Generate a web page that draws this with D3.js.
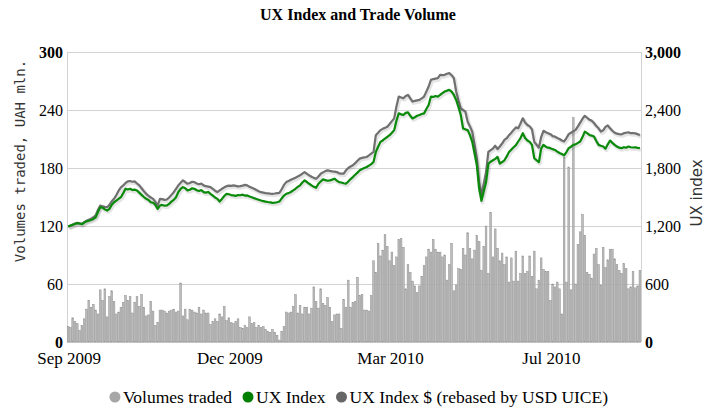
<!DOCTYPE html>
<html>
<head>
<meta charset="utf-8">
<script src="https://cdn.jsdelivr.net/npm/d3@7"></script>
<style>
  body { margin: 0; background: #fff; }
</style>
</head>
<body>
<div id="chart"></div>
<script>
// daily volumes traded, UAH mln (left axis)
const volumes = [
  16,15,25,21,19,12,17,24,34,43, 36,39,33,29,54,43,55,26,47,53,
  42,29,31,36,41,48,43,47,30,41, 47,37,49,36,27,28,42,32,17,20,
  33,33,32,30,32,33,34,31,32,61, 27,34,23,34,33,31,30,36,29,33,
  30,30,18,21,24,21,29,26,37,22, 25,20,19,21,24,15,14,17,15,26,
  19,20,15,17,15,16,13,11,10,13, 10,7,2,11,16,31,30,31,37,49,
  30,38,29,36,36,29,35,57,42,35, 55,40,38,46,36,21,28,29,29,14,
  44,36,64,36,41,42,67,48,49,33, 33,32,48,84,72,102,89,95,111,99,
  84,93,79,88,106,107,98,55,80,72, 63,58,51,58,68,79,88,96,93,106,
  96,93,93,88,90,64,80,102,53,59, 76,75,97,90,113,97,86,95,110,104,
  74,99,120,71,134,88,117,97,84,92, 80,88,62,87,63,94,63,71,89,71,
  73,89,68,94,55,64,87,75,73,73, 43,60,57,62,55,29,191,62,181,54,
  232,60,101,114,132,110,72,70,66,91, 97,80,59,98,77,85,96,96,86,80,
  74,71,81,76,55,57,73,56,58,74
];

// UX Index (right axis)
const uxIndex = [
  1195,1205,1212,1220,1230,1226,1218,1235,1248,1255,1262,1273,
  1290,1345,1394,1390,1372,1360,1377,1420,1446,1462,1480,1498,
  1540,1585,1578,1585,1572,1576,1568,1545,1522,1500,1481,1470,1446,
  1440,1418,1377,1412,1418,1410,1412,1428,1452,1470,1498,1550,1585,1602,
  1590,1568,1575,1590,1585,1570,1562,1572,1550,1545,1552,1533,
  1515,1495,1481,1453,1480,1510,1533,1528,1520,1516,
  1512,1520,1518,1524,1515,1516,1505,1498,1488,1480,1472,1464,
  1458,1452,1448,1445,1439,1442,1446,1453,1485,1515,1533,
  1540,1552,1568,1585,1605,1620,1650,1672,1655,1637,1620,1605,1595,
  1637,1660,1682,1675,1668,1672,1680,1689,1670,1654,1650,1642,1637,
  1660,1685,1706,1730,1752,1776,1790,1800,1810,1825,1840,1862,
  1966,2020,2070,2085,2105,2123,2140,2165,2192,2290,2365,2355,2348,
  2370,2376,2340,2313,2325,2340,2348,2358,2365,2410,2452,2539,
  2535,2545,2539,2556,2575,2591,2600,2608,2590,2556,2504,2430,2348,
  2209,2200,2192,2140,2070,1950,1828,1585,1460,1560,1654,1845,
  1865,1880,1895,1914,1845,1862,1880,1920,1966,1990,2015,2036,
  2074,2110,2160,2110,2085,2070,2039,1901,1880,1860,2001,2039,2020,
  2010,2005,1995,1987,1970,1955,1945,1930,1965,2005,2020,2039,
  2045,2060,2074,2120,2176,2160,2142,2135,2125,2080,2039,2030,2022,
  2000,2045,2084,2060,2040,2022,2010,2005,2015,2010,2022,
  2015,2012,2015,2008,2005
];

// UX Index $ (rebased by USD UICE), right axis
const uxIndexUsd = [
  1195,1200,1215,1225,1232,1228,1222,1240,1255,1265,1275,1290,
  1310,1365,1412,1405,1398,1394,1420,1455,1481,
  1520,1565,1600,1620,1645,1661,1665,1658,1661,1640,1620,
  1590,1560,1533,1512,1495,1481,1450,1412,1481,1478,1470,1474,
  1495,1522,1550,1585,1620,1648,1672,1655,1637,1645,1658,1654,
  1640,1632,1638,1620,1612,1608,1602,1585,1565,1550,1568,1585,
  1600,1612,1618,1615,1620,1615,1610,1613,1618,1625,1620,
  1605,1595,1585,1572,1560,1550,1545,1540,1538,1535,1533,
  1536,1540,1543,1580,1625,1654,1665,1678,1689,1700,1712,1724,
  1742,1758,1740,1724,1710,1698,1689,1712,1741,1755,1768,1776,
  1770,1765,1762,1758,1745,1741,1741,1776,1800,1815,1828,
  1850,1875,1897,1905,1910,1914,1930,1948,1966,2140,2165,
  2192,2205,2215,2227,2255,2285,2313,2440,2539,2530,2521,
  2545,2556,2520,2487,2495,2500,2504,2520,2539,2590,2643,
  2712,2720,2725,2729,2764,2760,2764,2775,2781,2760,2729,
  2591,2500,2417,2400,2383,2279,2230,2175,2040,1897,1654,1520,
  1640,1758,1966,1985,2001,
  2030,1995,2022,2053,2090,2108,2140,2165,2194,2220,2211,2260,2314,2270,2245,2230,
  2200,2070,2040,2010,2120,2185,2170,2160,2150,2130,2125,2110,2100,2085,2075,2110,
  2150,2165,2180,2194,2230,2270,2310,2340,2320,2300,2290,2265,2235,2210,2176,2190,
  2225,2240,2210,2185,2165,2155,2150,2148,2160,2165,2170,2160,2162,2158,2150,2140
];

const tickIndex = [0, 70, 140, 210];
const tickLabels = ["Sep 2009", "Dec 2009", "Mar 2010", "Jul 2010"];
const volumeTicks = [0, 60, 120, 180, 240, 300];
const indexTicks = [0, 600, 1200, 1800, 2400, 3000];
const seriesNames = ["Volumes traded", "UX Index", "UX Index $ (rebased by USD UICE)"];
const seriesColors = ["#a6a6a6", "#008000", "#666666"];

const width = 714, height = 410;
const plot = { left: 67, right: 641, top: 52, bottom: 342 };
const serif = "'Liberation Serif', 'Times New Roman', serif";

const svg = d3.select("#chart").append("svg")
  .attr("width", width)
  .attr("height", height)
  .style("display", "block");

const x = d3.scaleBand()
  .domain(d3.range(volumes.length))
  .range([plot.left, plot.right])
  .paddingInner(0.25)
  .paddingOuter(0.1);

const yVol = d3.scaleLinear().domain([0, 300]).range([plot.bottom, plot.top]);
const yIdx = d3.scaleLinear().domain([0, 3000]).range([plot.bottom, plot.top]);

// title
svg.append("text")
  .attr("x", 358).attr("y", 20)
  .attr("text-anchor", "middle")
  .style("font-family", serif)
  .style("font-size", "16px")
  .style("font-weight", "bold")
  .text("UX Index and Trade Volume");

// grid lines
svg.append("g").selectAll("line")
  .data(volumeTicks)
  .join("line")
  .attr("x1", plot.left).attr("x2", plot.right)
  .attr("y1", d => Math.round(yVol(d)) + 0.5)
  .attr("y2", d => Math.round(yVol(d)) + 0.5)
  .attr("stroke", "#d3d3d3")
  .attr("stroke-width", 1);

// side frame lines
svg.append("g").selectAll("line")
  .data([plot.left, plot.right])
  .join("line")
  .attr("x1", d => d + 0.5).attr("x2", d => d + 0.5)
  .attr("y1", plot.top).attr("y2", plot.bottom)
  .attr("stroke", "#d3d3d3");

// volume bars
svg.append("g").selectAll("rect")
  .data(volumes)
  .join("rect")
  .attr("x", (d, i) => x(i))
  .attr("width", x.bandwidth())
  .attr("y", d => yVol(d))
  .attr("height", d => plot.bottom - yVol(d))
  .attr("fill", "#bcbcbc")
  .attr("stroke", "#909090")
  .attr("stroke-width", 0.5);

// index lines with soft shadow
const line = d3.line()
  .x((d, i) => x(i) + x.bandwidth() / 2)
  .y(d => yIdx(d));

const drawLine = (data, color) => {
  svg.append("path")
    .datum(data)
    .attr("d", line)
    .attr("fill", "none")
    .attr("stroke", "#000")
    .attr("stroke-opacity", 0.1)
    .attr("stroke-width", 4)
    .attr("stroke-linejoin", "round")
    .attr("transform", "translate(1,1.5)");
  svg.append("path")
    .datum(data)
    .attr("d", line)
    .attr("fill", "none")
    .attr("stroke", color)
    .attr("stroke-width", 2.2)
    .attr("stroke-linejoin", "round");
};
drawLine(uxIndexUsd, "#707070");
drawLine(uxIndex, "#0a8a0a");

// left axis
const leftAxis = svg.append("g")
  .attr("transform", `translate(${plot.left - 4},0)`)
  .call(d3.axisLeft(yVol).tickValues(volumeTicks).tickSize(0).tickPadding(0));
leftAxis.select(".domain").remove();
leftAxis.selectAll("text")
  .style("font-family", serif)
  .style("font-size", "16px")
  .style("font-weight", d => (d === 0 || d === 300) ? "bold" : "normal")
  .attr("fill", "#000");

// right axis
const rightAxis = svg.append("g")
  .attr("transform", `translate(${plot.right + 4},0)`)
  .call(d3.axisRight(yIdx).tickValues(indexTicks).tickSize(0).tickPadding(0)
    .tickFormat(d3.format(",")));
rightAxis.select(".domain").remove();
rightAxis.selectAll("text")
  .style("font-family", serif)
  .style("font-size", "16px")
  .style("font-weight", d => (d === 0 || d === 3000) ? "bold" : "normal")
  .attr("fill", "#000");

// bottom axis labels
svg.append("g").selectAll("text")
  .data(tickIndex)
  .join("text")
  .attr("x", d => x(d) + x.bandwidth() / 2 + 1)
  .attr("y", 364)
  .attr("text-anchor", "middle")
  .style("font-family", serif)
  .style("font-size", "17px")
  .text((d, i) => tickLabels[i]);

// axis titles
svg.append("text")
  .attr("transform", "translate(25,161) rotate(-90)")
  .attr("text-anchor", "middle")
  .style("font-family", "'DejaVu Sans Mono', monospace")
  .style("font-size", "14px")
  .attr("fill", "#333")
  .text("Volumes traded, UAH mln.");

svg.append("text")
  .attr("transform", "translate(702,193) rotate(-90)")
  .attr("text-anchor", "middle")
  .style("font-family", "'DejaVu Sans', sans-serif")
  .style("font-size", "15px")
  .attr("fill", "#333")
  .text("UX index");

// legend
const legend = svg.append("g").attr("transform", "translate(0,397)");
const items = legend.selectAll("g")
  .data(seriesNames)
  .join("g");
items.append("circle")
  .attr("r", 5.5)
  .attr("fill", (d, i) => seriesColors[i]);
items.append("text")
  .attr("x", 8)
  .attr("y", 5.5)
  .style("font-family", serif)
  .style("font-size", "17.5px")
  .text(d => d);

let widths = [];
items.each(function () {
  widths.push(this.querySelector("text").getComputedTextLength() + 8);
});
const gap = 16;
const total = d3.sum(widths) + gap * (widths.length - 1);
let cursor = 356 - total / 2 + 5.5;
items.attr("transform", (d, i) => {
  const t = `translate(${cursor},0)`;
  cursor += widths[i] + gap;
  return t;
});
</script>
</body>
</html>
